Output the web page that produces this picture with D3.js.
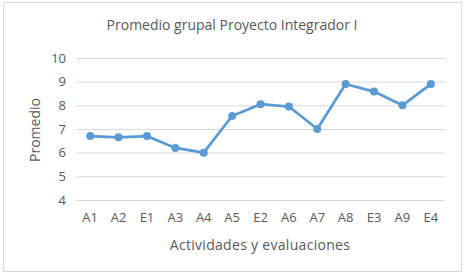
<!DOCTYPE html>
<html>
<head>
<meta charset="utf-8">
<script src="https://cdn.jsdelivr.net/npm/d3@7"></script>
<style>
  body { margin: 0; background: #fff; }
  text { font-family: "Open Sans", "Noto Sans", sans-serif; fill: #595959; }
</style>
</head>
<body>
<script>
// datos
const categorias = ["A1", "A2", "E1", "A3", "A4", "A5", "E2", "A6", "A7", "A8", "E3", "A9", "E4"];
const promedios = [6.7, 6.65, 6.7, 6.2, 6.0, 7.55, 8.05, 7.95, 7.0, 8.9, 8.58, 8.0, 8.9];
const yTicks = [4, 5, 6, 7, 8, 9, 10];

const width = 466;
const height = 275;
const marginTop = 58;
const marginLeft = 76;
const marginRight = 21;
const marginBottom = 75;

const svg = d3.select('body')
  .append('svg')
  .attr('width', width)
  .attr('height', height);

// marco del gráfico
svg.append('rect')
  .attr('x', 3.5).attr('y', 2.5)
  .attr('width', 458).attr('height', 269)
  .attr('fill', '#fff')
  .attr('stroke', '#d9d9d9');

const x = d3.scaleBand()
  .domain(categorias)
  .range([marginLeft, width - marginRight]);

const y = d3.scaleLinear()
  .domain([4, 10])
  .range([height - marginBottom, marginTop]);

// líneas de cuadrícula
svg.append('g')
  .selectAll('line')
  .data(yTicks)
  .join('line')
  .attr('x1', marginLeft)
  .attr('x2', width - marginRight)
  .attr('y1', d => y(d) + 0.5)
  .attr('y2', d => y(d) + 0.5)
  .attr('stroke', '#d9d9d9')
  .attr('stroke-width', 1);

// eje y
const yAxis = svg.append('g')
  .attr('transform', `translate(${marginLeft},0)`)
  .call(d3.axisLeft(y).tickValues(yTicks).tickFormat(d3.format('d')).tickSize(0).tickPadding(10));
yAxis.select('.domain').remove();
yAxis.selectAll('text').style('font-size', '13px').attr('fill', '#595959');

// eje x
const xAxis = svg.append('g')
  .attr('transform', `translate(0,${height - marginBottom})`)
  .call(d3.axisBottom(x).tickSize(0).tickPadding(13));
xAxis.select('.domain').remove();
xAxis.selectAll('text').style('font-size', '13px').attr('fill', '#595959');

// línea
const line = d3.line()
  .x((d, i) => x(categorias[i]) + x.bandwidth() / 2)
  .y(d => y(d));

svg.append('path')
  .datum(promedios)
  .attr('d', line)
  .attr('fill', 'none')
  .attr('stroke', '#5b9bd5')
  .attr('stroke-width', 2.75)
  .attr('stroke-linejoin', 'round');

svg.append('g')
  .selectAll('circle')
  .data(promedios)
  .join('circle')
  .attr('cx', (d, i) => x(categorias[i]) + x.bandwidth() / 2)
  .attr('cy', d => y(d))
  .attr('r', 4)
  .attr('fill', '#5b9bd5');

// títulos
svg.append('text')
  .attr('x', 232)
  .attr('y', 30)
  .attr('text-anchor', 'middle')
  .style('font-size', '14px')
  .text('Promedio grupal Proyecto Integrador I');

svg.append('text')
  .attr('x', 260)
  .attr('y', 250)
  .attr('text-anchor', 'middle')
  .style('font-size', '14px')
  .style('letter-spacing', '0.3px')
  .text('Actividades y evaluaciones');

svg.append('text')
  .attr('transform', `translate(40,130) rotate(-90)`)
  .attr('text-anchor', 'middle')
  .style('font-size', '14px')
  .text('Promedio');
</script>
</body>
</html>
